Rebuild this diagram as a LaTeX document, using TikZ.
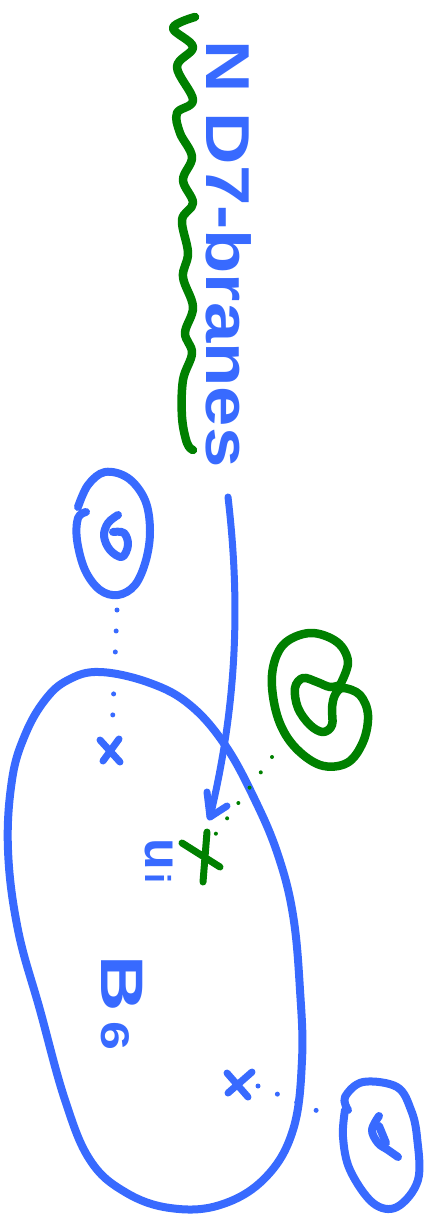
\documentclass[tikz,border=0pt]{standalone}
\usepackage{fontspec}
\setmainfont{Liberation Sans}
\usetikzlibrary{calc}
\definecolor{sk}{RGB}{56,106,255}
\definecolor{gr}{RGB}{0,128,0}
\begin{document}
\begin{tikzpicture}[x=1pt,y=-1pt,line cap=round,line join=round,
  bl/.style={draw=sk,line width=8pt},
  gl/.style={draw=gr,line width=8.5pt},
  lab/.style={text=sk,inner sep=0pt,rotate=-90,anchor=base west},
  bdots/.style={draw=sk,line width=5pt,dash pattern=on 0pt off 21pt},
  gdots/.style={draw=gr,line width=4pt,dash pattern=on 0pt off 19pt},
  xmark/.style={line width=7pt}]
\fill[white] (0,0) rectangle (431,1214);
\useasboundingbox (0,0) rectangle (431,1214);

% green wavy line (D7-branes)
\draw[gl] plot[smooth,tension=0.6] coordinates {(195,17) (173,28) (193,47) (177,67) (193,100) (177,113) (180,133) (192,157) (183,180) (193,203) (182,220) (188,253) (183,277) (193,307) (185,333) (192,353) (183,380) (182,417) (187,443) (193,450)};

% labels
\node[lab,font=\bfseries\fontsize{62}{62}\selectfont,xscale=1.17] (title) at (206,40) {N D7-branes};
\node[lab,font=\bfseries\fontsize{52}{52}\selectfont] (ui) at (145,838) {u\hspace{4pt}{\fontsize{36}{36}\selectfont i}};
\node[lab,font=\bfseries\fontsize{60}{60}\selectfont,xscale=1.3] (B6) at (101,955) {B{\fontsize{40}{40}\selectfont\hspace{8pt}6}};

% main blob B6
\draw[bl] plot[smooth cycle,tension=0.65] coordinates {(100,672) (150,683) (190,705) (225,745) (255,800) (278,855) (293,915) (300,990) (302,1060) (293,1130) (265,1178) (220,1205) (170,1208) (125,1192) (90,1160) (65,1100) (40,1010) (18,930) (8,850) (12,780) (25,735) (45,700) (68,680)};

% top small blue circle with spiral
\draw[bl] plot[smooth,tension=0.6] coordinates {(78,507) (88,485) (105,472) (128,478) (145,500) (150,530) (146,560) (135,585) (118,595) (100,590) (85,570) (77,540) (78,518) (86,512)};
\draw[bl] plot[smooth,tension=0.6] coordinates {(118,515) (108,523) (104,536) (110,550) (122,557) (128,545) (124,533) (113,532)};

% bottom-right small blue circle
\draw[bl] plot[smooth,tension=0.6] coordinates {(348,1110) (345,1097) (363,1082) (397,1087) (411,1110) (417,1137) (418,1180) (397,1207) (373,1203) (350,1170) (343,1137) (345,1110)};
\draw[bl] plot[smooth,tension=0.6] coordinates {(379,1116) (372,1130) (378,1143) (388,1150) (398,1157)};
\draw[bl] (379,1126) -- (386,1143);

% green spiral
\draw[gl] plot[smooth,tension=0.6] coordinates {(340,685) (348,662) (337,642) (310,633) (283,645) (272,675) (277,715) (293,745) (320,765) (347,763) (363,742) (368,715) (360,695) (343,688) (335,695) (332,708) (332,725) (323,732) (310,725) (298,708) (295,688) (303,678) (317,682) (330,687) (340,685)};

% marks
\coordinate (x1) at (110,750);
\coordinate (x2) at (202,855);
\coordinate (x3) at (240,1084);
\draw[sk,xmark] (100,740) -- (120,762) (119,739) -- (103,761);
\draw[gr,xmark] (182,843) -- (220,867) (207,832) -- (203,882);
\draw[sk,xmark] (227,1073) -- (248,1097) (252,1072) -- (228,1093);

% dotted connectors
\coordinate (c1) at (117,610);
\coordinate (c3) at (332,1117);
\coordinate (g1) at (272,757);
\draw[bdots] (c1) -- ($(x1)+(2,-16)$);
\draw[bdots] ($(x3)+(18,2)$) -- (c3);
\draw[gdots] (g1) -- ($(x2)+(10,-16)$);

% arrow from label to the green mark
\coordinate (a0) at (228,497);
\coordinate (tip) at (210,817);
\draw[sk,line width=7pt] (a0) .. controls (240,600) and (238,700) .. (tip);
\draw[sk,line width=7pt] (207,792) -- (tip) -- (227,806);
\end{tikzpicture}
\end{document}
